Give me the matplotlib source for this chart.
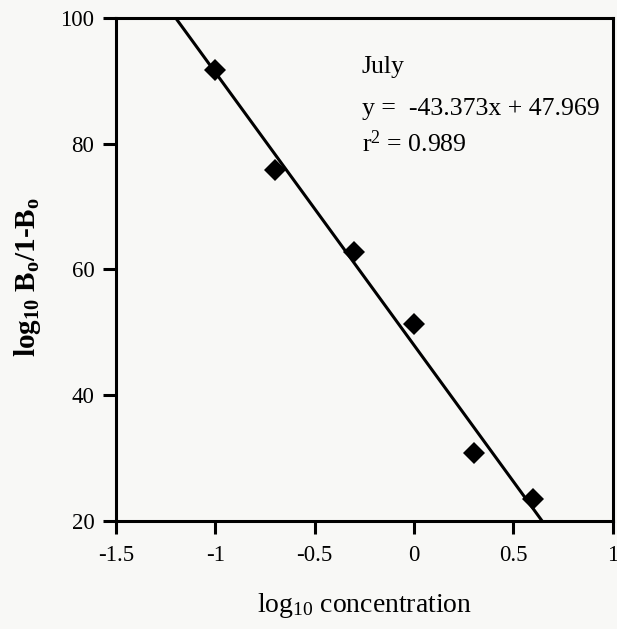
import numpy as np
import matplotlib
matplotlib.use("Agg")
import matplotlib.pyplot as plt

plt.rcParams["font.family"] = ["Liberation Serif", "DejaVu Serif"]
plt.rcParams["mathtext.fontset"] = "custom"
plt.rcParams["mathtext.rm"] = "Liberation Serif"
plt.rcParams["mathtext.bf"] = "Liberation Serif:bold"
plt.rcParams["mathtext.default"] = "regular"

# Measured points (July)
log_conc = [-1.0, -0.7, -0.3, 0.0, 0.3, 0.6]
log_ratio = [91.8, 75.9, 62.8, 51.3, 30.8, 23.5]

# Reported linear fit
slope = -43.373
intercept = 47.969
r_squared = 0.989

x_ticks = [-1.5, -1, -0.5, 0, 0.5, 1]
x_tick_labels = ["-1.5", "-1", "-0.5", "0", "0.5", "1"]
y_ticks = [20, 40, 60, 80, 100]

bg = "#f8f8f6"
fig = plt.figure(figsize=(6.17, 6.29), dpi=100, facecolor=bg)
ax = fig.add_axes([0.188, 0.1717, 0.805, 0.7997])
ax.set_facecolor(bg)

ax.set_xlim(-1.5, 1)
ax.set_ylim(20, 100)

# Regression line across the full x range, clipped by the axes
xs = np.array([-1.5, 1.0])
ax.plot(xs, slope * xs + intercept, color="black", lw=2.2, solid_capstyle="butt")

ax.plot(log_conc, log_ratio, linestyle="none", marker="D", ms=11,
        color="black", markeredgewidth=0)

for s in ax.spines.values():
    s.set_linewidth(2.2)
    s.set_color("black")

ax.set_xticks(x_ticks)
ax.set_xticklabels(x_tick_labels)
ax.set_yticks(y_ticks)
ax.tick_params(axis="both", direction="out", length=9.5, width=2.2,
               labelsize=16.5, colors="black")
ax.tick_params(axis="x", pad=8)
ax.tick_params(axis="y", pad=6)

ax.set_xlabel("log$_{10}$ concentration", fontsize=20, labelpad=18)
ax.set_ylabel("log$_{10}$ B$_o$/1-B$_o$", fontsize=21, fontweight="bold")
ax.yaxis.set_label_coords(-0.146, 0.485)

txt_kw = dict(transform=ax.transAxes, fontsize=18.5, ha="left", va="baseline")
ax.text(0.495, 0.891, "July", **txt_kw)
ax.text(0.495, 0.807, f"y =  {slope}x + {intercept}", **txt_kw)
ax.text(0.495, 0.734, f"r$^2$ = {r_squared}", **txt_kw)

fig.savefig("out.png", dpi=100, facecolor=bg)
